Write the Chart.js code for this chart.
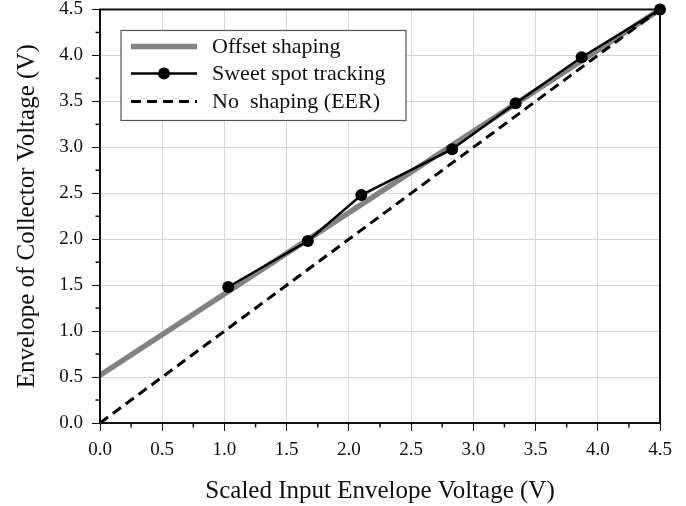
<!DOCTYPE html>
<html lang="en">
<head>
  <meta charset="UTF-8">
  <title>Envelope of Collector Voltage</title>
  <script src="https://cdn.jsdelivr.net/npm/chart.js"></script>
  <style>
    body {
      margin: 0;
      padding: 0;
      background: #fff;
    }
  </style>
</head>
<body>

<canvas id="envChart" width="686" height="506"></canvas>

<script>
  // values
  const axisTicks = [0, 0.5, 1.0, 1.5, 2.0, 2.5, 3.0, 3.5, 4.0, 4.5];
  const minorTicks = [0.25, 0.75, 1.25, 1.75, 2.25, 2.75, 3.25, 3.75, 4.25];

  const offsetX = [0, 4.5];
  const offsetY = [0.52, 4.5];

  const sweetX = [1.03, 1.67, 2.10, 2.83, 3.34, 3.87, 4.5];
  const sweetY = [1.48, 1.98, 2.48, 2.98, 3.48, 3.98, 4.5];

  const eerX = [0, 4.5];
  const eerY = [0, 4.5];

  const serif = "'Liberation Serif', 'Times New Roman', serif";

  function toPoints(xs, ys) {
    return xs.map((x, i) => ({ x: x, y: ys[i] }));
  }

  // frame around the plot + short minor ticks outside the axes
  const framePlugin = {
    id: 'frame',
    afterDraw(chart) {
      const ctx = chart.ctx;
      const a = chart.chartArea;
      const xs = chart.scales.x;
      const ys = chart.scales.y;
      ctx.save();
      ctx.strokeStyle = '#111';
      ctx.lineWidth = 1.5;
      minorTicks.forEach(v => {
        const px = xs.getPixelForValue(v);
        ctx.beginPath();
        ctx.moveTo(px, a.bottom);
        ctx.lineTo(px, a.bottom + 4.5);
        ctx.stroke();
        const py = ys.getPixelForValue(v);
        ctx.beginPath();
        ctx.moveTo(a.left, py);
        ctx.lineTo(a.left - 4.5, py);
        ctx.stroke();
      });
      ctx.lineWidth = 2;
      ctx.strokeRect(a.left, a.top, a.right - a.left, a.bottom - a.top);
      ctx.restore();
    }
  };

  // boxed legend in the upper left of the plot
  const legendPlugin = {
    id: 'boxLegend',
    afterDraw(chart) {
      const ctx = chart.ctx;
      const a = chart.chartArea;
      const left = a.left + 21, top = a.top + 21;
      const w = 285, h = 90;
      const rows = [
        { ds: chart.data.datasets[1], y: 37 },
        { ds: chart.data.datasets[0], y: 64 },
        { ds: chart.data.datasets[2], y: 92 }
      ];
      ctx.save();
      ctx.fillStyle = '#fff';
      ctx.fillRect(left, top, w, h);
      ctx.strokeStyle = '#555';
      ctx.lineWidth = 1.2;
      ctx.strokeRect(left, top, w, h);
      rows.forEach(r => {
        const y = a.top + r.y;
        ctx.beginPath();
        ctx.setLineDash(r.ds.borderDash || []);
        ctx.strokeStyle = r.ds.borderColor;
        ctx.lineWidth = r.ds.borderWidth;
        ctx.moveTo(a.left + 31, y);
        ctx.lineTo(a.left + 97, y);
        ctx.stroke();
        ctx.setLineDash([]);
        if (r.ds.pointRadius > 0) {
          ctx.beginPath();
          ctx.fillStyle = r.ds.pointBackgroundColor;
          ctx.arc(a.left + 64, y, r.ds.pointRadius, 0, Math.PI * 2);
          ctx.fill();
        }
        ctx.fillStyle = '#111';
        ctx.font = '22px ' + serif;
        ctx.textBaseline = 'middle';
        ctx.fillText(r.ds.label, a.left + 112, y + 1);
      });
      ctx.restore();
    }
  };

  new Chart(document.getElementById('envChart'), {
    type: 'line',
    data: {
      datasets: [
        {
          label: 'Sweet spot tracking',
          data: toPoints(sweetX, sweetY),
          borderColor: '#000',
          borderWidth: 2.5,
          pointRadius: 6,
          pointBackgroundColor: '#000',
          pointBorderWidth: 0,
          clip: false,
          order: 0
        },
        {
          label: 'Offset shaping',
          data: toPoints(offsetX, offsetY),
          borderColor: '#828282',
          borderWidth: 5.5,
          pointRadius: 0,
          order: 2
        },
        {
          label: 'No  shaping (EER)',
          data: toPoints(eerX, eerY),
          borderColor: '#000',
          borderWidth: 3,
          borderDash: [10, 6],
          pointRadius: 0,
          order: 1
        }
      ]
    },
    options: {
      responsive: false,
      animation: false,
      layout: { padding: { top: 0, right: 26, left: 0, bottom: 0 } },
      plugins: {
        legend: { display: false },
        tooltip: { enabled: false }
      },
      scales: {
        x: {
          type: 'linear',
          min: 0,
          max: 4.5,
          afterFit(scale) { scale.height = 83; },
          afterBuildTicks(scale) { scale.ticks = axisTicks.map(v => ({ value: v })); },
          grid: { color: '#d4d4d4', tickColor: '#111', tickLength: 8, lineWidth: 1 },
          border: { display: false },
          ticks: {
            padding: 8,
            color: '#111',
            font: { family: serif, size: 19 },
            callback: v => v.toFixed(1)
          },
          title: {
            display: true,
            text: 'Scaled Input Envelope Voltage (V)',
            color: '#111',
            font: { family: serif, size: 25 },
            padding: { top: 0, bottom: 0 }
          }
        },
        y: {
          type: 'linear',
          min: 0,
          max: 4.5,
          afterFit(scale) { scale.width = 100; },
          afterBuildTicks(scale) { scale.ticks = axisTicks.map(v => ({ value: v })); },
          grid: { color: '#d4d4d4', tickColor: '#111', tickLength: 8, lineWidth: 1 },
          border: { display: false },
          ticks: {
            padding: 9,
            color: '#111',
            // tiny line height so the top label does not push the plot down
            font: { family: serif, size: 19, lineHeight: 0.05 },
            callback: v => v.toFixed(1)
          },
          title: {
            display: true,
            text: 'Envelope of Collector Voltage (V)',
            color: '#111',
            font: { family: serif, size: 25 },
            padding: { top: 12, bottom: 0 }
          }
        }
      }
    },
    plugins: [framePlugin, legendPlugin]
  });
</script>
</body>
</html>
